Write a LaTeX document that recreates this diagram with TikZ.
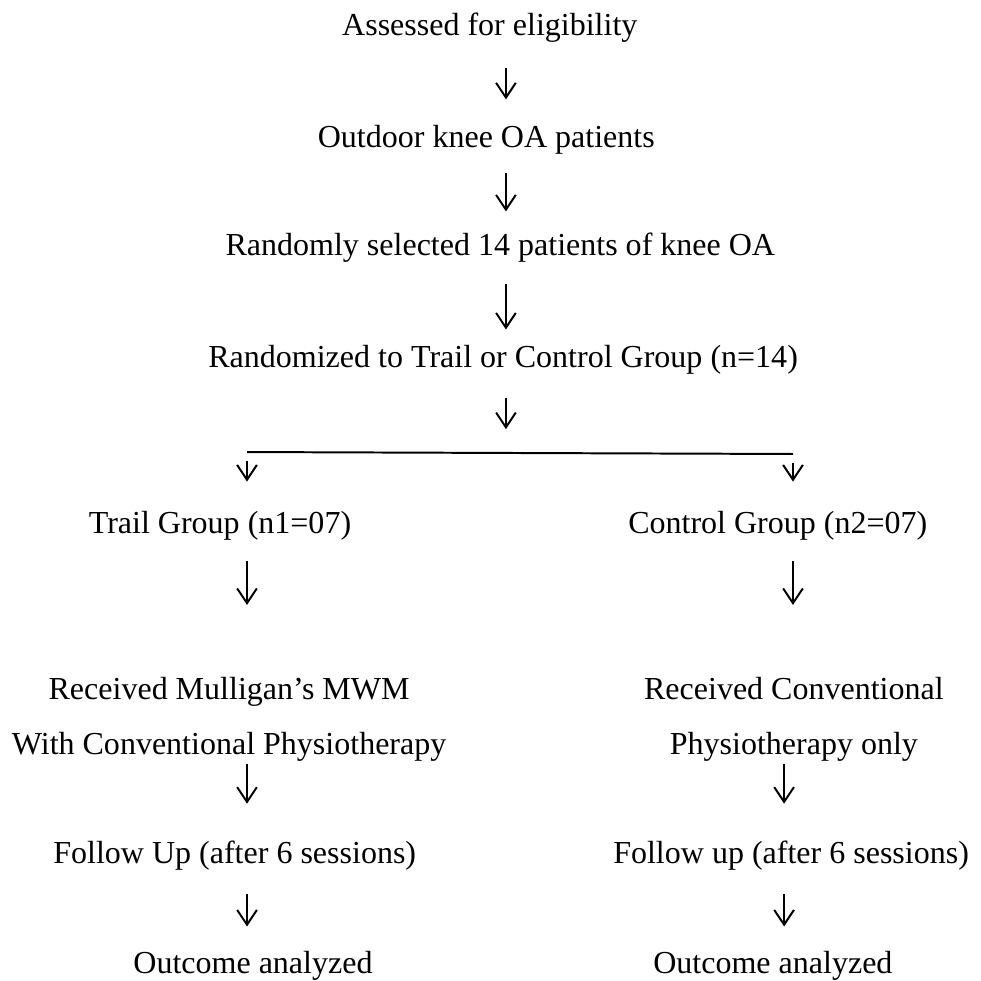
\documentclass[tikz,border=0pt]{standalone}
\usepackage{fontspec}
\setmainfont{Liberation Serif}
\usetikzlibrary{arrows.meta}

\begin{document}
\begin{tikzpicture}[
      lbl/.style={font=\fontsize{13}{15.6}\selectfont, inner sep=0pt, text height=8.6pt, text depth=2.9pt, anchor=base},
      twoline/.style={font=\fontsize{13}{22.3}\selectfont, inner sep=0pt, align=center, anchor=north},
      arr/.style={-{Straight Barb[length=6pt,width=8pt]}, line width=0.8pt}]
    \useasboundingbox (0,0) rectangle (14,-13.986);
    \coordinate (spine) at (7.22,0);
    \coordinate (lcol) at (3.525,0);
    \coordinate (rcol) at (11.317,0);
    \coordinate (rcol2) at (11.19,0);
    % main column
    \node[lbl] (assess) at (6.99,-0.50) {Assessed for eligibility};
    \node[lbl] (outdoor) at (6.94,-2.10) {Outdoor knee OA patients};
    \node[lbl] (randsel) at (7.14,-3.64) {Randomly selected 14 patients of knee OA};
    \node[lbl] (randomized) at (7.18,-5.24) {Randomized to Trail or Control Group (n=14)};
    \coordinate (splitL) at (3.525,-6.451);
    \coordinate (splitR) at (11.317,-6.479);
    % two groups
    \node[lbl] (trail) at (3.14,-7.61) {Trail Group (n1=07)};
    \node[lbl] (control) at (11.10,-7.61) {Control Group (n2=07)};
    \node[twoline] (mwm) at (3.27,-9.66) {Received Mulligan’s MWM\\With Conventional Physiotherapy};
    \node[twoline] (conv) at (11.33,-9.66) {Received Conventional\\Physiotherapy only};
    \node[lbl] (followL) at (3.35,-12.32) {Follow Up (after 6 sessions)};
    \node[lbl] (followR) at (11.29,-12.32) {Follow up (after 6 sessions)};
    \node[lbl] (outL) at (3.61,-13.89) {Outcome analyzed};
    \node[lbl] (outR) at (11.03,-13.89) {Outcome analyzed};

    \draw[arr, shorten <=10.2pt, shorten >=10.6pt] (assess.south -| spine) -- (outdoor.north -| spine);
    \draw[arr, shorten <=7.3pt, shorten >=8.9pt] (outdoor.south -| spine) -- (randsel.north -| spine);
    \draw[arr, shorten <=8.5pt, shorten >=6.5pt] (randsel.south -| spine) -- (randomized.north -| spine);
    \draw[arr, shorten <=9.3pt, shorten >=9.3pt] (randomized.south -| spine) -- (spine |- splitL);
    \draw[line width=0.8pt] (splitL) -- (splitR);
    \draw[arr, shorten <=3.7pt, shorten >=12.2pt] (splitL) -- (trail.north -| splitL);
    \draw[arr, shorten <=3.7pt, shorten >=12.2pt] (splitR) -- (control.north -| splitR);
    % left branch
    \draw[arr, shorten <=8.1pt, shorten >=29.2pt] (trail.south -| lcol) -- (mwm.north -| lcol);
    \draw[arr, shorten <=0.8pt, shorten >=15.4pt] (mwm.south -| lcol) -- (followL.north -| lcol);
    \draw[arr, shorten <=9.3pt, shorten >=10.2pt] (followL.south -| lcol) -- (outL.north -| lcol);
    % right branch
    \draw[arr, shorten <=8.1pt, shorten >=29.2pt] (control.south -| rcol) -- (conv.north -| rcol);
    \draw[arr, shorten <=0.8pt, shorten >=15.4pt] (conv.south -| rcol2) -- (followR.north -| rcol2);
    \draw[arr, shorten <=9.3pt, shorten >=10.2pt] (followR.south -| rcol2) -- (outR.north -| rcol2);
  \end{tikzpicture}
\end{document}
